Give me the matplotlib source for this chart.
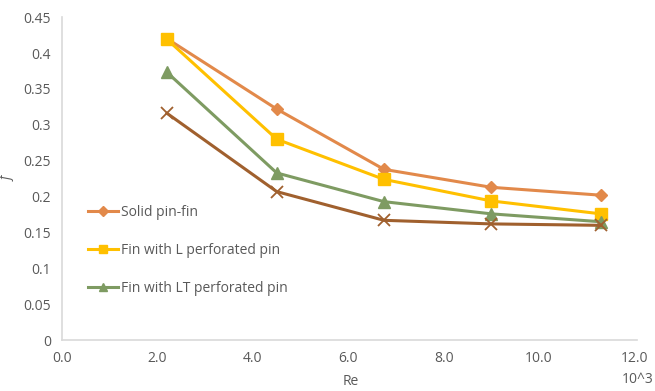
import matplotlib.pyplot as plt

# Reynolds number (x10^3) and friction factor per fin type
re = [2.2, 4.5, 6.75, 9.0, 11.3]
solid_pin = [0.420, 0.322, 0.238, 0.213, 0.202]
l_perforated = [0.419, 0.280, 0.224, 0.194, 0.176]
lt_perforated = [0.373, 0.233, 0.193, 0.176, 0.165]
other_pin = [0.316, 0.207, 0.167, 0.162, 0.160]

labels = ["Solid pin-fin", "Fin with L perforated pin", "Fin with LT perforated pin"]
x_ticks = [0, 2, 4, 6, 8, 10, 12]
y_ticks = [0, 0.05, 0.1, 0.15, 0.2, 0.25, 0.3, 0.35, 0.4, 0.45]

plt.rcParams["font.family"] = ["Open Sans", "DejaVu Sans"]
grey = "#595959"

fig = plt.figure(figsize=(6.55, 3.91), dpi=100)
ax = fig.add_axes([0.095, 0.13, 0.877, 0.826])

ax.plot(re, solid_pin, color="#E2894A", lw=2.2, marker="D", ms=6, label=labels[0], zorder=3)
ax.plot(re, l_perforated, color="#FFC000", lw=2.2, marker="s", ms=8, label=labels[1], zorder=3)
ax.plot(re, lt_perforated, color="#7E9B62", lw=2.2, marker="^", ms=8, label=labels[2], zorder=3)
ax.plot(re, other_pin, color="#A0602E", lw=2.2, marker="x", ms=9, mew=1.3, zorder=3)

ax.set_xlim(0, 12.05)
ax.set_ylim(0, 0.45)
ax.set_xticks(x_ticks)
ax.set_xticklabels([f"{v:.1f}" for v in x_ticks])
ax.set_yticks(y_ticks)
ax.set_yticklabels(["0", "0.05", "0.1", "0.15", "0.2", "0.25", "0.3", "0.35", "0.4", "0.45"])
ax.tick_params(length=0, labelsize=10, colors=grey, pad=8)
for side in ("top", "right"):
    ax.spines[side].set_visible(False)
for side in ("left", "bottom"):
    ax.spines[side].set_color("#D9D9D9")
    ax.spines[side].set_linewidth(1.2)

ax.set_ylabel("f", style="italic", color=grey, fontsize=10, labelpad=6)
fig.text(0.535, 0.005, "Re", color=grey, fontsize=10, ha="center", va="bottom")
fig.text(0.998, 0.01, "10^3", color=grey, fontsize=10, ha="right", va="bottom")

ax.legend(loc="upper left", bbox_to_anchor=(0.023, 0.458), frameon=False, fontsize=10,
          labelcolor=grey, handlelength=2.2, handletextpad=0.2, labelspacing=1.65,
          markerscale=0.8)

fig.savefig("out.png", dpi=100)
